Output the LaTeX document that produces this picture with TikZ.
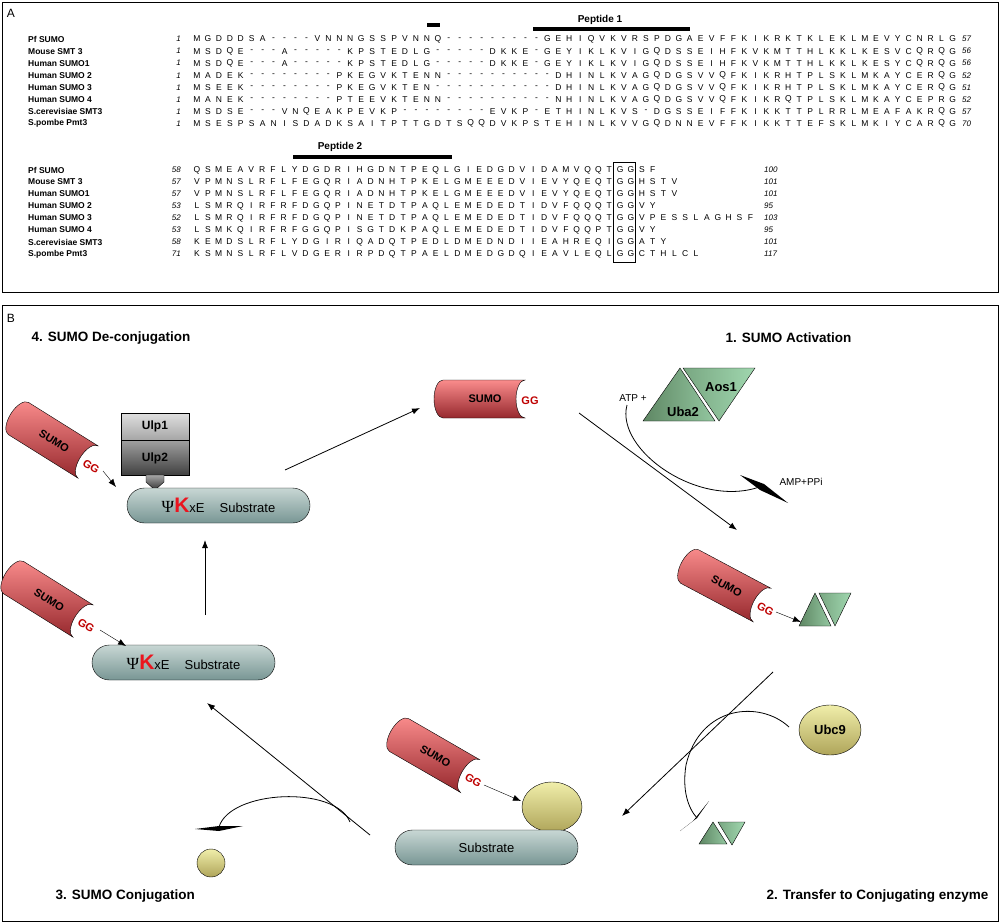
\documentclass[tikz,border=0pt]{standalone}
\usepackage{fontspec}
\setmainfont{Liberation Sans}
\newfontfamily\psifont{Liberation Serif}
\usepackage{tikz}
\usetikzlibrary{arrows.meta,positioning,calc,shapes.misc,shapes.geometric}
\definecolor{sumotop}{RGB}{250,140,140}
\definecolor{sumobot}{RGB}{150,40,45}
\definecolor{ggred}{RGB}{190,0,0}
\definecolor{kred}{RGB}{235,20,30}
\definecolor{subtop}{RGB}{200,215,212}
\definecolor{subbot}{RGB}{120,150,148}
\definecolor{grdark}{RGB}{95,135,100}
\definecolor{grlight}{RGB}{160,215,175}
\definecolor{yeltop}{RGB}{240,238,170}
\definecolor{yelbot}{RGB}{175,165,90}
\tikzset{
    panel/.style={draw, line width=0.8pt},
    seqname/.style={anchor=west, font=\fontsize{8.5}{9}\selectfont\bfseries, inner sep=0pt},
    seqnum/.style={anchor=east, font=\fontsize{8}{9}\selectfont\itshape, inner sep=0pt},
    seqend/.style={anchor=west, font=\fontsize{8}{9}\selectfont\itshape, inner sep=0pt},
    res/.style={font=\fontsize{8.5}{9}\selectfont, inner sep=0pt},
    pepbar/.style={line width=4pt},
    peplabel/.style={font=\fontsize{10}{11}\selectfont\bfseries},
    stagelabel/.style={anchor=west, font=\fontsize{13.5}{15}\selectfont\bfseries},
    sumobody/.style={draw, thin, top color=sumotop, bottom color=sumobot},
    sumotxt/.style={font=\fontsize{11}{12}\selectfont\bfseries, transform shape},
    ggtxt/.style={font=\fontsize{11}{12}\selectfont\bfseries, text=ggred, transform shape},
    subst/.style={draw, rounded rectangle, top color=subtop, bottom color=subbot,
                  font=\fontsize{13}{14}\selectfont, inner sep=2pt},
    ulp/.style={draw, minimum width=68pt, font=\fontsize{12}{13}\selectfont\bfseries},
    trdark/.style={draw, thin, left color=grdark, right color=grlight!80!grdark},
    trlight/.style={draw, thin, left color=grdark!60!grlight, right color=grlight},
    yel/.style={draw, thin, top color=yeltop, bottom color=yelbot},
    flow/.style={-{Latex[length=8pt,width=6pt]}, thick},
    plain/.style={thick},
}
% residues of one aligned row
\newcommand\seqrow[4]{\def\seqx{#1}\def\seqy{#2}\def\seqstep{#3}\expandafter\seqloop#4\relax}
\def\seqloop#1{\ifx#1\relax\else
  \node[res] at (\seqx,\seqy) {#1};
  \pgfmathsetmacro\seqx{\seqx+\seqstep}\expandafter\seqloop\fi}
% a SUMO cylinder ending at #1, turned by #2
\newcommand\sumo[3]{%
  \begin{scope}[shift={#1}, rotate=#2]
    \path[sumobody] (-82,-19) -- (0,-19)
      arc[start angle=270, end angle=90, x radius=9, y radius=19]
      -- (-82,19) arc[start angle=90, end angle=270, x radius=9, y radius=19] -- cycle;
    \node[sumotxt] (#3) at (-40,0) {SUMO};
    \node[ggtxt] (#3gg) at (5,2) {GG};
  \end{scope}}
\newcommand\motif{{\psifont\fontsize{17}{17}\selectfont Ψ}{\color{kred}\fontsize{21}{22}\selectfont\bfseries K}xE\hspace{15pt}Substrate}

\begin{document}
\begin{tikzpicture}[x=1pt, y=-1pt]
    \useasboundingbox (0,0) rectangle (1001,923);

    % Panel A
    \draw[panel] (2,2) rectangle (998,292);
    \node[font=\fontsize{12}{13}\selectfont] (labA) at (11,13) {A};
    \node[peplabel] (pep1) at (600,20) {Peptide 1};
    \draw[pepbar] (533,29) -- (690,29);
    \draw[pepbar] (427,25) -- (440,25);
    \node[peplabel] (pep2) at (340,147) {Peptide 2};
    \draw[pepbar] (293,157) -- (452,157);

    \foreach \nm/\ln/\sq/\en [count=\i from 0] in {
      Pf SUMO/1/MGDDDSA----VNNNGSSPVNNQ---------GEHIQVKVRSPDGAEVFFKIKRKTKLEKLMEVYCNRLG/57,
      Mouse SMT 3/1/MSDQE---A-----KPSTEDLG-----DKKE-GEYIKLKVIGQDSSEIHFKVKMTTHLKKLKESVCQRQG/56,
      Human SUMO1/1/MSDQE---A-----KPSTEDLG-----DKKE-GEYIKLKVIGQDSSEIHFKVKMTTHLKKLKESYCQRQG/56,
      Human SUMO 2/1/MADEK--------PKEGVKTENN----------DHINLKVAGQDGSVVQFKIKRHTPLSKLMKAYCERQG/52,
      Human SUMO 3/1/MSEEK--------PKEGVKTEN-----------DHINLKVAGQDGSVVQFKIKRHTPLSKLMKAYCERQG/51,
      Human SUMO 4/1/MANEK--------PTEEVKTENN----------NHINLKVAGQDGSVVQFKIKRQTPLSKLMKAYCEPRG/52,
      S.cerevisiae SMT3/1/MSDSE---VNQEAKPEVKP--------EVKP-ETHINLKVS-DGSSEIFFKIKKTTPLRRLMEAFAKRQG/57,
      S.pombe Pmt3/1/MSESPSANISDADKSAITPTTGDTSQQDVKPSTEHINLKVVGQDNNEVFFKIKKTTEFSKLMKIYCARQG/70}{
      \node[seqname] (na\i) at (28,39+12.1*\i) {\nm};
      \node[seqnum] (sa\i) at (181,39+12.1*\i) {\ln};
      \seqrow{197}{39+12.1*\i}{10.95}{\sq}
      \node[seqend] (ea\i) at (962,39+12.1*\i) {\en};
    }

    \foreach \nm/\ln/\sq/\en [count=\i from 0] in {
      Pf SUMO/58/QSMEAVRFLYDGDRIHGDNTPEQLGIEDGDVIDAMVQQTGGSF/100,
      Mouse SMT 3/57/VPMNSLRFLFEGQRIADNHTPKELGMEEEDVIEVYQEQTGGHSTV/101,
      Human SUMO1/57/VPMNSLRFLFEGQRIADNHTPKELGMEEEDVIEVYQEQTGGHSTV/101,
      Human SUMO 2/53/LSMRQIRFRFDGQPINETDTPAQLEMEDEDTIDVFQQQTGGVY/95,
      Human SUMO 3/52/LSMRQIRFRFDGQPINETDTPAQLEMEDEDTIDVFQQQTGGVPESSLAGHSF/103,
      Human SUMO 4/53/LSMKQIRFRFGGQPISGTDKPAQLEMEDEDTIDVFQQPTGGVY/95,
      S.cerevisiae SMT3/58/KEMDSLRFLYDGIRIQADQTPEDLDMEDNDIIEAHREQIGGATY/101,
      S.pombe Pmt3/71/KSMNSLRFLVDGERIRPDQTPAELDMEDGDQIEAVLEQLGGCTHLCL/117}{
      \node[seqname] (nb\i) at (28,170+12*\i) {\nm};
      \node[seqnum] (sb\i) at (181,170+12*\i) {\ln};
      \seqrow{197}{170+12*\i}{10.85}{\sq}
      \node[seqend] (eb\i) at (764,170+12*\i) {\en};
    }
    \draw[thick] (613,162) rectangle (635,262);

    % Panel B
    \draw[panel] (2,305) rectangle (998,921);
    \node[font=\fontsize{12}{13}\selectfont] (labB) at (11,318) {B};
    \node[stagelabel] (st4) at (28,338) {4. SUMO De-conjugation};
    \node[stagelabel, anchor=east] (st1) at (855,338) {1. SUMO Activation};
    \node[stagelabel] (st3) at (52,896) {3. SUMO Conjugation};
    \node[stagelabel, anchor=east] (st2) at (992,896) {2. Transfer to Conjugating enzyme};

    % de-conjugation
    \sumo{(88,462)}{-32}{sumoA}
    \node[ulp, minimum height=27pt, top color=gray!25, bottom color=gray!70] (ulp1) at (155,426.5) {Ulp1};
    \node[ulp, minimum height=35pt, top color=gray!75, bottom color=black!75, below=0pt of ulp1] (ulp2) {Ulp2};
    \path[draw, top color=gray!70, bottom color=black!80] (146,475) -- (146,482) -- (155,490) -- (164,482) -- (164,475) -- cycle;
    \node[subst, minimum width=187pt, minimum height=35pt] (sub1) at (218.5,505.5) {\motif};
    \coordinate (a1s) at (103,471);
    \coordinate (a1e) at (116,487);
    \draw[flow, thin] (a1s) -- (a1e);

    \sumo{(83,621)}{-32}{sumoB}
    \node[subst, minimum width=187pt, minimum height=35pt] (sub2) at (183.5,662.5) {\motif};
    \coordinate (a2s) at (100,630);
    \coordinate (a2e) at (126,646);
    \draw[flow, thin] (a2s) -- (a2e);
    \coordinate (upS) at (205,615);
    \coordinate (upE) at (205,540);
    \draw[flow] (upS) -- (upE);

    % free SUMO and activation
    \coordinate (toS) at (285,470);
    \coordinate (toE) at (420,408);
    \draw[flow] (toS) -- (toE);
    \sumo{(525,399)}{0}{sumoF}
    \shade[trdark] (643,421) -- (680,368) -- (715,421) -- cycle;
    \shade[trlight] (683,368) -- (755,368) -- (719,421) -- cycle;
    \node[font=\fontsize{13}{14}\selectfont\bfseries] (uba2) at (683,412) {Uba2};
    \node[font=\fontsize{13}{14}\selectfont\bfseries] (aos1) at (721,387) {Aos1};
    \node[font=\fontsize{10}{11}\selectfont] (atp) at (633,398) {ATP +};
    \node[font=\fontsize{10}{11}\selectfont, anchor=west] (amp) at (776,482) {AMP+PPi};
    \draw[plain] (627,405) .. controls (615,450) and (700,510) .. (762,486);
    \fill (740,475) -- (764,484) -- (788,503) -- (760,490) -- cycle;
    \coordinate (lgS) at (579,413);
    \coordinate (lgE) at (737,530);
    \draw[flow] (lgS) -- (lgE);

    % transfer to Ubc9
    \sumo{(762,605)}{-28}{sumoC}
    \coordinate (a3s) at (776,612);
    \coordinate (a3e) at (801,622);
    \draw[flow, thin] (a3s) -- (a3e);
    \shade[trdark] (799,626) -- (815,593) -- (831,626) -- cycle;
    \shade[trlight] (819,593) -- (851,593) -- (835,626) -- cycle;
    \node[yel, ellipse, minimum width=62pt, minimum height=50pt, font=\fontsize{13}{14}\selectfont\bfseries] (ubc9) at (830,730) {Ubc9};
    \draw[plain] (789,727) .. controls (760,700) and (700,705) .. (686,765) .. controls (682,790) and (688,808) .. (697,818);
    \fill (709,801) -- (697,818) -- (680,831) -- (693,821) -- cycle;
    \shade[trdark] (699,844) -- (713,822) -- (727,844) -- cycle;
    \shade[trlight] (718,822) -- (745,822) -- (732,845) -- cycle;
    \coordinate (trS) at (773,672);
    \coordinate (trE) at (622,816);
    \draw[flow] (trS) -- (trE);

    % conjugation
    \sumo{(470,776)}{-30}{sumoD}
    \node[yel, ellipse, minimum width=60pt, minimum height=50pt] (e2) at (552,807) {};
    \node[subst, minimum width=187pt, minimum height=35pt] (sub3) at (486.5,847.5) {Substrate};
    \coordinate (a4s) at (484,785);
    \coordinate (a4e) at (521,801);
    \draw[flow, thin] (a4s) -- (a4e);
    \coordinate (cjS) at (370,835);
    \coordinate (cjE) at (207,703);
    \draw[flow] (cjS) -- (cjE);
    \draw[plain] (350,822) .. controls (335,785) and (230,790) .. (219,827);
    \fill (195,829) -- (219,826) -- (243,826) -- (219,831) -- cycle;
    \node[yel, circle, minimum size=28pt] (e2f) at (211,863) {};
\end{tikzpicture}
\end{document}
